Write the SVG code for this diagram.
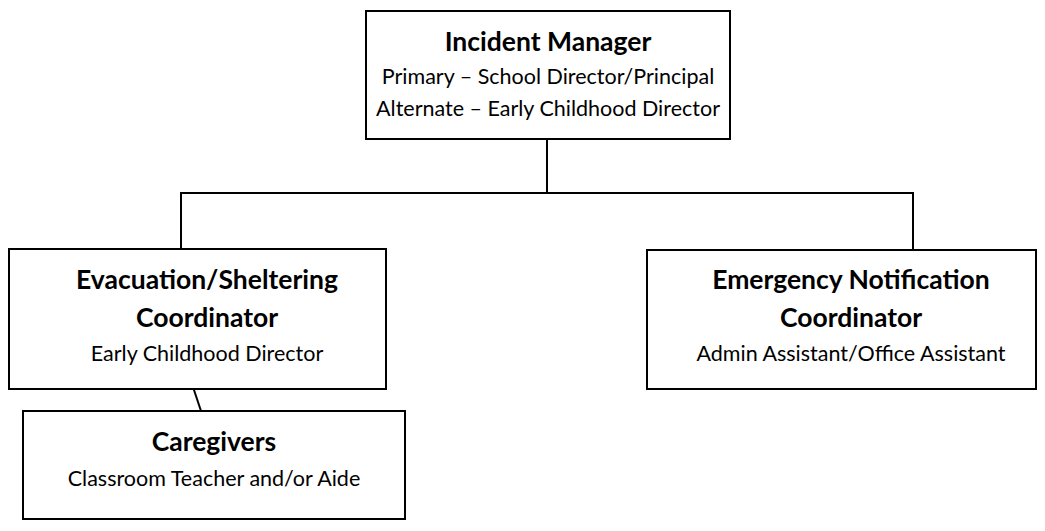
<svg xmlns="http://www.w3.org/2000/svg" width="1045" height="531" viewBox="0 0 1045 531">
<style>
.box{fill:#fff;stroke:#000;stroke-width:2}
.t{font-family:Lato,"Open Sans","Liberation Sans",sans-serif;font-weight:bold;font-size:26.5px;fill:#000;text-anchor:middle}
.s{font-family:Lato,"Open Sans","Liberation Sans",sans-serif;font-size:21.5px;fill:#000;text-anchor:middle}
.c{fill:none;stroke:#000;stroke-width:2}
</style>
<rect width="1045" height="531" fill="#fff"/>
<g id="connectors">
<line class="c" x1="547" y1="139" x2="547" y2="193"/>
<line class="c" x1="180" y1="193" x2="914" y2="193"/>
<line class="c" x1="181" y1="192" x2="181" y2="249"/>
<line class="c" x1="913" y1="192" x2="913" y2="250"/>
<line class="c" x1="193" y1="387" x2="201" y2="411"/>
</g>
<g id="incident-manager">
<rect class="box" x="366" y="11" width="364" height="128"/>
<text class="t" x="548" y="51">Incident Manager</text>
<text class="s" x="548" y="84">Primary – School Director/Principal</text>
<text class="s" x="548" y="116">Alternate – Early Childhood Director</text>
</g>
<g id="evacuation">
<rect class="box" x="9" y="249" width="377" height="140"/>
<text class="t" x="207" y="289">Evacuation/Sheltering</text>
<text class="t" x="207" y="327">Coordinator</text>
<text class="s" x="207" y="361">Early Childhood Director</text>
</g>
<g id="emergency-notification">
<rect class="box" x="647" y="250" width="389" height="139"/>
<text class="t" x="851" y="289">Emergency Notification</text>
<text class="t" x="851" y="327">Coordinator</text>
<text class="s" x="851" y="361">Admin Assistant/Office Assistant</text>
</g>
<g id="caregivers">
<rect class="box" x="23" y="411" width="382" height="108"/>
<text class="t" x="214" y="451">Caregivers</text>
<text class="s" x="214" y="486">Classroom Teacher and/or Aide</text>
</g>
</svg>
